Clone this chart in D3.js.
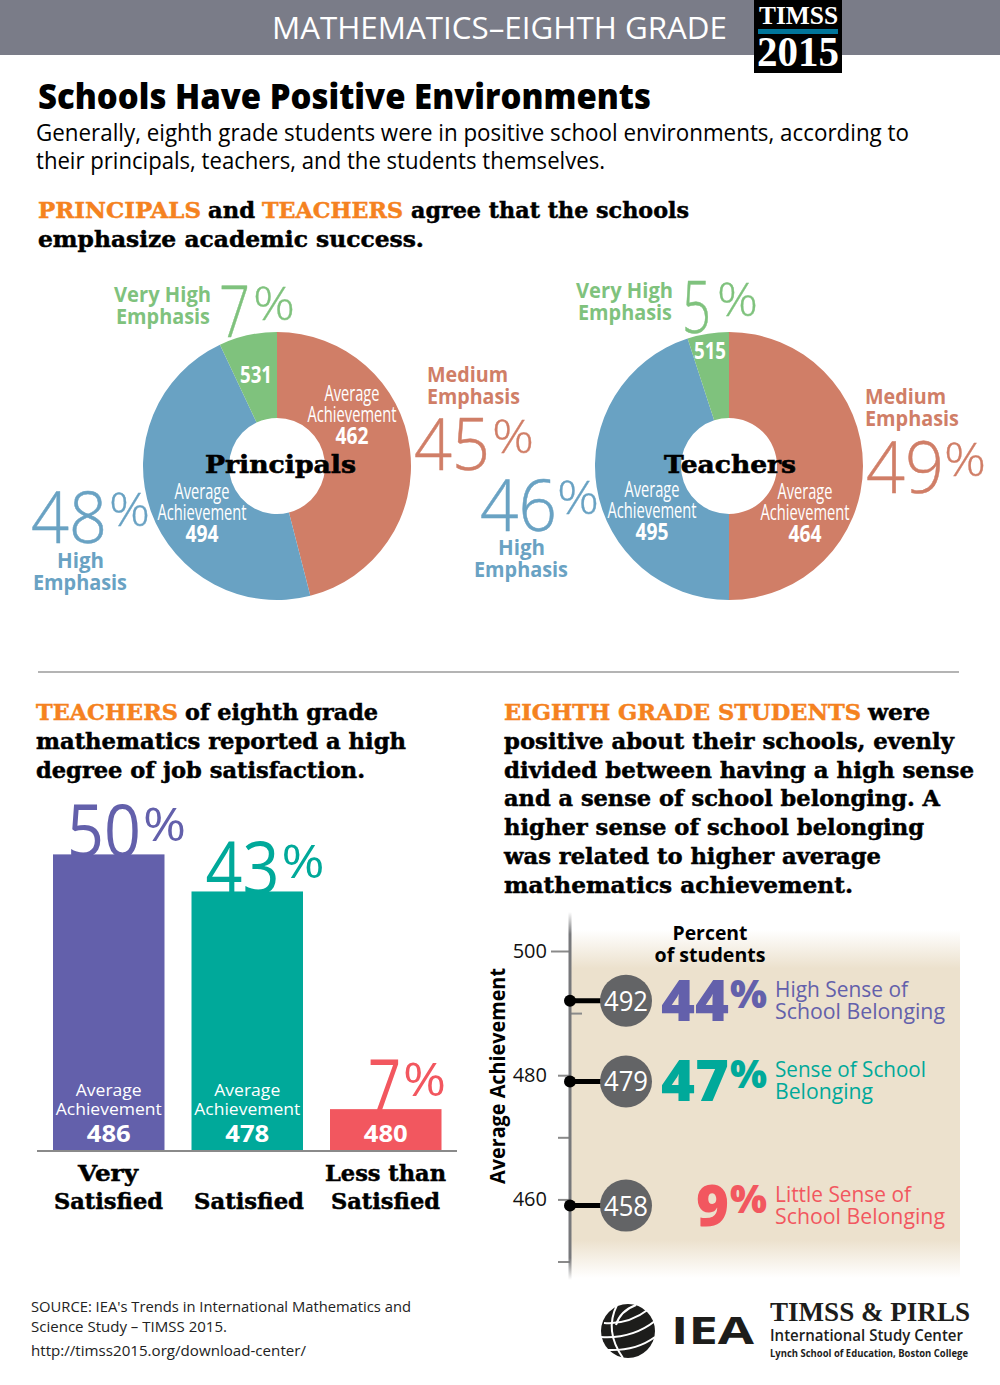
<!DOCTYPE html>
<html>
<head>
<meta charset="utf-8">
<script src="https://d3js.org/d3.v7.min.js"></script>
<style>
	html, body { margin: 0; padding: 0; background: #fff; }
	svg { display: block; }
</style>
</head>
<body>
<div id="chart"></div>
<script>

// pies - shares are what the slices measure, percents are the printed labels
const emphasisLevels = ["Medium", "High", "Very High"]
const principalShares = [46, 47, 7]
const principalPercents = [45, 48, 7]
const principalScores = [462, 494, 531]
const teacherShares = [50, 45, 5]
const teacherPercents = [49, 46, 5]
const teacherScores = [464, 495, 515]

// job satisfaction bars
const jobCategories = ["Very Satisfied", "Satisfied", "Less than Satisfied"]
const jobShares = [49.6, 43.4, 7]
const jobPercents = [50, 43, 7]
const jobScores = [486, 478, 480]

// school belonging
const belongCategories = ["High Sense of School Belonging", "Sense of School Belonging", "Little Sense of School Belonging"]
const belongPercents = [44, 47, 9]
const belongScores = [492, 479, 458]
const belongPlotted = [492, 479, 459]
const belongTicks = [500, 490, 480, 470, 460, 450]
const belongTickLabels = [500, 480, 460]

const sans = "'Open Sans', 'Noto Sans', sans-serif"
const slab = "'DejaVu Serif', serif"
const serif = "'Liberation Serif', serif"

const orange = "#f58220"
const pieColors = { "Medium": "#d07e67", "High": "#69a2c3", "Very High": "#7fc27d" }
const jobColors = ["#6360ab", "#00a99a", "#f2575f"]

const svg = d3.select("#chart").append("svg")
	.attr("width", 1000)
	.attr("height", 1385)
	.attr("viewBox", "0 0 1000 1385")

function label(parent, str, x, y, o) {
	o = o || {}
	var t = parent.append("text")
		.attr("x", x)
		.attr("y", y)
		.attr("font-family", o.family || sans)
		.attr("font-size", o.size || 20)
		.attr("font-weight", o.weight || 400)
		.attr("fill", o.fill || "#000")
		.attr("text-anchor", o.anchor || "start")
		.text(str)
	if (o.len) {
		t.attr("textLength", o.len).attr("lengthAdjust", "spacingAndGlyphs")
	}
	// no heavy enough slab installed, thicken it with a thin outline
	if (o.thick) {
		t.attr("stroke", o.fill || "#000").attr("stroke-width", o.thick)
	}
	return t
}

// slab headings, [text, start x, end x, colour]
function heading(runs, y) {
	runs.forEach(function(r) {
		label(svg, r[0], r[1], y, { family: slab, weight: 700, size: 23, len: r[2] - r[1], fill: r[3] || "#000", thick: 0.5 })
	})
}

// big thin number with a raised percent sign
function bigPercent(parent, value, x0, x1, px0, px1, y, color) {
	label(parent, value, x0, y, { size: 72, weight: 300, fill: color, len: x1 - x0, thick: 0.5 })
	label(parent, "%", px0 - 2, y - 17, { size: 46, weight: 300, fill: color, len: px1 - px0 + 4, thick: 0.3 })
}

/* header */

svg.append("rect").attr("width", 1000).attr("height", 55).attr("fill", "#7a7c88")
label(svg, "MATHEMATICS–EIGHTH GRADE", 272, 39, { size: 31, weight: 400, fill: "#fff", len: 455 })
svg.append("rect").attr("x", 754).attr("y", 0).attr("width", 88).attr("height", 73).attr("fill", "#000")
label(svg, "TIMSS", 759, 24, { family: serif, weight: 700, size: 26, fill: "#fff", len: 79 })
svg.append("rect").attr("x", 758).attr("y", 29).attr("width", 80).attr("height", 5).attr("fill", "#00759a")
label(svg, "2015", 757, 66, { family: serif, weight: 700, size: 42, fill: "#fff", len: 82 })

label(svg, "Schools Have Positive Environments", 38, 109, { size: 36, weight: 800, len: 613 })
label(svg, "Generally, eighth grade students were in positive school environments, according to", 36, 141, { size: 24, len: 873 })
label(svg, "their principals, teachers, and the students themselves.", 36, 169, { size: 24, len: 569 })

heading([["PRINCIPALS", 38, 201, orange], ["and", 208, 255], ["TEACHERS", 262, 403, orange], ["agree that the schools", 411, 689]], 218)
heading([["emphasize academic success.", 38, 424]], 247)

/* pies */

const pie = d3.pie().sort(null).value(d => d.share)
const arc = d3.arc().innerRadius(48).outerRadius(134)

function drawPie(cx, cy, shares) {
	var data = emphasisLevels.map((d, i) => ({ level: d, share: shares[i] }))
	svg.append("g")
		.attr("transform", `translate(${cx},${cy})`)
		.selectAll("path")
		.data(pie(data))
		.enter().append("path")
		.attr("d", arc)
		.attr("fill", d => pieColors[d.data.level])
}

function avgLabel(score, cx, y) {
	label(svg, "Average", cx, y, { size: 21, fill: "#fff", anchor: "middle", len: 55 })
	label(svg, "Achievement", cx, y + 21, { size: 21, fill: "#fff", anchor: "middle", len: 89 })
	label(svg, score, cx, y + 43, { size: 24, weight: 700, fill: "#fff", anchor: "middle", len: 33 })
}

function emphasisLabel(level, x, y, lenA, lenB, x2) {
	label(svg, level, x, y, { size: 22, weight: 700, fill: pieColors[level], len: lenA })
	label(svg, "Emphasis", x2 === undefined ? x : x2, y + 22, { size: 22, weight: 700, fill: pieColors[level], len: lenB })
}

drawPie(277, 466, principalShares)
drawPie(729, 466, teacherShares)

// principals labels
emphasisLabel("Very High", 114, 302, 97, 94, 116)
bigPercent(svg, principalPercents[2], 219, 250, 255, 293, 337, pieColors["Very High"])
emphasisLabel("Medium", 427, 382, 81, 93)
bigPercent(svg, principalPercents[0], 414, 490, 494, 532, 470, pieColors["Medium"])
emphasisLabel("High", 57, 568, 47, 94, 33)
bigPercent(svg, principalPercents[1], 31, 107, 111, 148, 543, pieColors["High"])
avgLabel(principalScores[0], 352, 401)
avgLabel(principalScores[1], 202, 499)
label(svg, principalScores[2], 256, 383, { size: 24, weight: 700, fill: "#fff", anchor: "middle", len: 32 })
label(svg, "Principals", 205, 473, { family: slab, weight: 700, size: 25, len: 151, thick: 0.6 })

// teachers labels
emphasisLabel("Very High", 576, 298, 97, 94, 578)
bigPercent(svg, teacherPercents[2], 682, 711, 719, 756, 333, pieColors["Very High"])
emphasisLabel("Medium", 865, 404, 81, 94)
bigPercent(svg, teacherPercents[0], 866, 944, 946, 984, 493, pieColors["Medium"])
emphasisLabel("High", 498, 555, 47, 94, 474)
bigPercent(svg, teacherPercents[1], 480, 557, 559, 597, 531, pieColors["High"])
avgLabel(teacherScores[0], 805, 499)
avgLabel(teacherScores[1], 652, 497)
label(svg, teacherScores[2], 710, 359, { size: 24, weight: 700, fill: "#fff", anchor: "middle", len: 32 })
label(svg, "Teachers", 664, 473, { family: slab, weight: 700, size: 25, len: 132, thick: 0.6 })

svg.append("line").attr("x1", 38).attr("x2", 959).attr("y1", 672).attr("y2", 672)
	.attr("stroke", "#b4b4b4").attr("stroke-width", 2)

/* job satisfaction */

heading([["TEACHERS", 36, 178, orange], ["of eighth grade", 185, 378]], 720)
heading([["mathematics reported a high", 36, 406]], 749)
heading([["degree of job satisfaction.", 36, 365]], 778)

const barX = d3.scaleBand().domain(jobCategories).range([53, 441.5]).paddingInner(0.195)
const barY = d3.scaleLinear().domain([0, 50]).range([1151, 852])

jobCategories.forEach(function(d, i) {
	var x = barX(d)
	var top = barY(jobShares[i])
	var single = jobPercents[i] < 10
	var numW = single ? 33 : 74
	var numX = single ? x + 38 : x + 14
	label(svg, jobPercents[i], numX, top + 3, { size: 74, fill: jobColors[i], len: numW })
	label(svg, "%", numX + numW + 2, top - 13, { size: 46, fill: jobColors[i], len: 43 })
})

svg.append("g").selectAll("rect")
	.data(jobCategories)
	.enter().append("rect")
	.attr("x", d => barX(d))
	.attr("y", (d, i) => barY(jobShares[i]))
	.attr("width", barX.bandwidth())
	.attr("height", (d, i) => barY(0) - barY(jobShares[i]))
	.attr("fill", (d, i) => jobColors[i])

svg.append("line").attr("x1", 37).attr("x2", 457).attr("y1", 1151).attr("y2", 1151)
	.attr("stroke", "#8a8a8a").attr("stroke-width", 2)

jobCategories.forEach(function(d, i) {
	var mid = barX(d) + barX.bandwidth() / 2
	if (i < 2) {
		label(svg, "Average", mid, 1096, { size: 17, weight: 500, fill: "#fff", anchor: "middle", len: 66 })
		label(svg, "Achievement", mid, 1115, { size: 17, weight: 500, fill: "#fff", anchor: "middle", len: 106 })
	}
	label(svg, jobScores[i], mid, 1142, { size: 24, weight: 700, fill: "#fff", anchor: "middle", len: 44 })
})

const catStyle = { family: slab, weight: 700, size: 23, thick: 0.5 }
label(svg, "Very", 108, 1181, Object.assign({ anchor: "middle", len: 60 }, catStyle))
label(svg, "Satisfied", 54, 1209, Object.assign({ len: 109 }, catStyle))
label(svg, "Satisfied", 194, 1209, Object.assign({ len: 110 }, catStyle))
label(svg, "Less than", 325, 1181, Object.assign({ len: 121 }, catStyle))
label(svg, "Satisfied", 331, 1209, Object.assign({ len: 109 }, catStyle))

/* school belonging */

heading([["EIGHTH GRADE STUDENTS", 504, 861, orange], ["were", 868, 930]], 720)
heading([["positive about their schools, evenly", 504, 954]], 749)
heading([["divided between having a high sense", 504, 974]], 778)
heading([["and a sense of school belonging. A", 504, 940]], 806)
heading([["higher sense of school belonging", 504, 924]], 835)
heading([["was related to higher average", 504, 881]], 864)
heading([["mathematics achievement.", 504, 853]], 893)

const defs = svg.append("defs")

function fadeGradient(id, color, edge) {
	var g = defs.append("linearGradient")
		.attr("id", id)
		.attr("x1", 0).attr("x2", 0).attr("y1", 0).attr("y2", 1)
	g.append("stop").attr("offset", "0%").attr("stop-color", color).attr("stop-opacity", 0)
	g.append("stop").attr("offset", edge + "%").attr("stop-color", color).attr("stop-opacity", 1)
	g.append("stop").attr("offset", (100 - edge) + "%").attr("stop-color", color).attr("stop-opacity", 1)
	g.append("stop").attr("offset", "100%").attr("stop-color", color).attr("stop-opacity", 0)
}

fadeGradient("panelFade", "#ece1cd", 11)
fadeGradient("axisFade", "#77787b", 6)

svg.append("rect").attr("x", 570).attr("y", 930).attr("width", 390).attr("height", 348).attr("fill", "url(#panelFade)")

const scoreY = d3.scaleLinear().domain([500, 450]).range([951, 1261.5])

const axis = d3.axisLeft(scoreY)
	.tickValues(belongTicks)
	.tickSize(12)
	.tickPadding(11)
	.tickFormat(d => belongTickLabels.includes(d) ? d : "")

const axisG = svg.append("g").attr("transform", "translate(570,0)").call(axis)
axisG.select(".domain").remove()
axisG.selectAll("line").attr("stroke", "#8a8a8a").attr("stroke-width", 2)
axisG.selectAll("text").attr("font-family", sans).attr("font-size", 20).attr("fill", "#111")
// the 500 tick runs longer, the 490 tick sits inside the panel
axisG.selectAll(".tick").filter(d => d == 500).select("line").attr("x2", -19)
axisG.selectAll(".tick").filter(d => d == 490).select("line").attr("x2", 12)

svg.append("rect").attr("x", 568.5).attr("y", 912).attr("width", 3).attr("height", 368).attr("fill", "url(#axisFade)")

const rotated = svg.append("g").attr("transform", "translate(505,1184) rotate(-90)")
label(rotated, "Average Achievement", 0, 0, { size: 22, weight: 700, len: 216 })

label(svg, "Percent", 710, 940, { size: 20, weight: 700, anchor: "middle", len: 75 })
label(svg, "of students", 710, 962, { size: 20, weight: 700, anchor: "middle", len: 111 })

const dots = svg.append("g").selectAll("g")
	.data(belongCategories)
	.enter().append("g")
	.attr("transform", (d, i) => `translate(0,${scoreY(belongPlotted[i])})`)

dots.append("line").attr("x1", 570).attr("x2", 605).attr("stroke", "#000").attr("stroke-width", 5)
dots.append("circle").attr("cx", 570).attr("r", 6).attr("fill", "#000")
dots.append("circle").attr("cx", 626).attr("r", 26).attr("fill", "#636466")
dots.append("text")
	.attr("x", 626)
	.attr("y", 10)
	.attr("text-anchor", "middle")
	.attr("font-family", sans)
	.attr("font-size", 27)
	.attr("fill", "#fff")
	.attr("textLength", 44)
	.attr("lengthAdjust", "spacingAndGlyphs")
	.text((d, i) => belongScores[i])

const belongLines = [["High Sense of", "School Belonging"], ["Sense of School", "Belonging"], ["Little Sense of", "School Belonging"]]
const belongWidths = [[133, 170], [151, 98], [136, 170]]

belongCategories.forEach(function(d, i) {
	var y = scoreY(belongPlotted[i])
	var c = jobColors[i]
	var single = belongPercents[i] < 10
	label(svg, belongPercents[i], single ? 696 : 661, y + 20, { size: 57, weight: 800, fill: c, len: single ? 33 : 68 })
	label(svg, "%", 730, y + 7, { size: 38, weight: 800, fill: c, len: 37 })
	label(svg, belongLines[i][0], 775, y - 4, { size: 22, weight: 500, fill: c, len: belongWidths[i][0] })
	label(svg, belongLines[i][1], 775, y + 18, { size: 22, weight: 500, fill: c, len: belongWidths[i][1] })
})

/* footer */

label(svg, "SOURCE: IEA's Trends in International Mathematics and", 31, 1312, { size: 15, fill: "#222", len: 380 })
label(svg, "Science Study – TIMSS 2015.", 31, 1332, { size: 15, fill: "#222", len: 196 })
label(svg, "http://timss2015.org/download-center/", 31, 1356, { size: 15, fill: "#222", len: 275 })

const globe = svg.append("g").attr("transform", "translate(628,1331)")
globe.append("circle").attr("r", 27).attr("fill", "#1d1d1b")
globe.selectAll("path")
	.data([
		"M-24,-8 Q0,-6 21,-22",
		"M-27,6 Q4,8 27,-10",
		"M-20,19 Q8,20 27,6",
		"M-11,-26 Q-24,0 -5,27",
		"M8,-26 Q-8,-20 -12,-6"
	])
	.enter().append("path")
	.attr("d", d => d)
	.attr("fill", "none")
	.attr("stroke", "#fff")
	.attr("stroke-width", 2)

label(svg, "IEA", 671, 1344, { size: 37, weight: 700, fill: "#1d1d1b", len: 83 })
label(svg, "TIMSS & PIRLS", 770, 1321, { family: serif, weight: 700, size: 28, fill: "#1d1d1b", len: 200 })
label(svg, "International Study Center", 770, 1341, { size: 16, weight: 600, fill: "#1d1d1b", len: 193 })
label(svg, "Lynch School of Education, Boston College", 770, 1357, { size: 11, weight: 700, fill: "#1d1d1b", len: 198 })

</script>
</body>
</html>
